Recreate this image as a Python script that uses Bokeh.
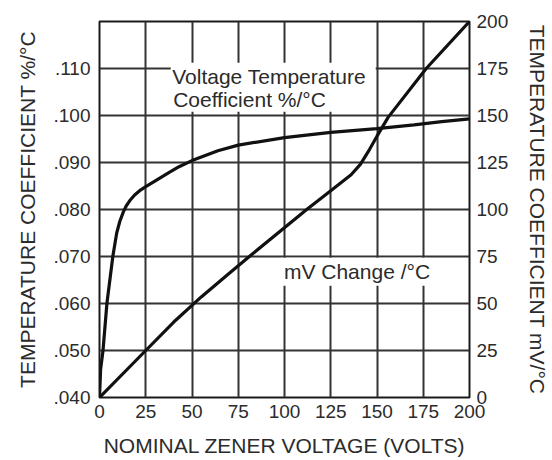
from bokeh.plotting import figure
from bokeh.models import (Range1d, LinearAxis, FixedTicker, CustomJSTickFormatter,
                          Label, BoxAnnotation)
from bokeh.embed import file_html
from bokeh.resources import INLINE

# --- data ---
volts_pct = [0, 0.6, 1.9, 4.0, 7.2, 9.3, 11.0, 12.9, 14.5, 16.4, 19.0, 21.7, 24.8,
             30.6, 37.7, 43, 50, 64, 75, 100, 125, 150, 170, 185, 200]
tc_pct = [0.040, 0.046, 0.050, 0.060, 0.070, 0.0750, 0.0775, 0.0795, 0.0808, 0.0819,
          0.0831, 0.0840, 0.0848, 0.0862, 0.0879, 0.0891, 0.0904, 0.0925, 0.0937,
          0.0953, 0.0964, 0.0972, 0.0980, 0.0987, 0.0993]

volts_mv = [0, 25, 40, 55, 70, 81, 112, 125, 136, 141, 146, 150, 156, 176.6, 200]
tc_mv = [0, 25, 40, 53.5, 66, 75, 100, 110, 118.5, 124, 132, 139, 149, 175, 200]

x_ticks = [0, 25, 50, 75, 100, 125, 150, 175, 200]
left_ticks = [0.040, 0.050, 0.060, 0.070, 0.080, 0.090, 0.100, 0.110]
right_ticks = [0, 25, 50, 75, 100, 125, 150, 175, 200]

x_title = "NOMINAL ZENER VOLTAGE (VOLTS)"
left_title = "TEMPERATURE COEFFICIENT %/°C"
right_title = "TEMPERATURE COEFFICIENT mV/°C"
pct_label = ["Voltage Temperature", "Coefficient %/°C"]
mv_label = "mV Change /°C"

FONT = "Liberation Sans"
TXT = "#2b2b2b"
GRID = "#333333"

p = figure(width=552, height=460, output_backend="svg", toolbar_location=None,
           x_range=Range1d(0, 200), y_range=Range1d(0.04, 0.12),
           min_border_left=99, min_border_right=76, min_border_top=21,
           min_border_bottom=63, background_fill_color="white",
           border_fill_color="white")
p.extra_y_ranges = {"mv": Range1d(0, 200)}

p.outline_line_color = "#1a1a1a"
p.outline_line_width = 2

# grids
p.xgrid.ticker = FixedTicker(ticks=x_ticks)
p.ygrid.ticker = FixedTicker(ticks=left_ticks)
for g in (p.xgrid, p.ygrid):
    g.grid_line_color = GRID
    g.grid_line_width = 2

# bottom axis
xa = p.xaxis[0]
xa.ticker = FixedTicker(ticks=x_ticks)
xa.axis_label = x_title

# left axis
ya = p.yaxis[0]
ya.ticker = FixedTicker(ticks=left_ticks)
ya.formatter = CustomJSTickFormatter(
    code="return '.' + String(Math.round(tick * 1000)).padStart(3, '0');")
ya.axis_label = left_title

# right axis
ra = LinearAxis(y_range_name="mv", ticker=FixedTicker(ticks=right_ticks),
                axis_label=right_title)
p.add_layout(ra, "right")

for ax in (xa, ya, ra):
    ax.axis_line_color = None
    ax.major_tick_line_color = None
    ax.minor_tick_line_color = None
    ax.major_tick_out = 0
    ax.major_tick_in = 0
    ax.major_label_text_font = FONT
    ax.major_label_text_font_size = "19px"
    ax.major_label_text_color = TXT
    ax.axis_label_text_font = FONT
    ax.axis_label_text_font_size = "21px"
    ax.axis_label_text_font_style = "normal"
    ax.axis_label_text_color = TXT

xa.major_label_standoff = 7
xa.axis_label_standoff = 13
ya.major_label_standoff = 9
ya.axis_label_standoff = 12
ra.major_label_standoff = 7
ra.axis_label_standoff = 15

# curves
p.line(volts_pct, tc_pct, line_color="#111111", line_width=3.2)
p.line(volts_mv, tc_mv, y_range_name="mv", line_color="#111111", line_width=3.2)

# label boxes (white backgrounds over grid)
p.add_layout(BoxAnnotation(left=38.5, right=149.3, top=0.1112, bottom=0.1008,
                           fill_color="white", fill_alpha=1.0, line_color=None))
p.add_layout(BoxAnnotation(left=98.3, right=177.3, top=74.3, bottom=59.4,
                           y_range_name="mv", fill_color="white", fill_alpha=1.0,
                           line_color=None))

p.add_layout(Label(x=39.3, y=0.1083, text=pct_label[0], text_font=FONT,
                   text_font_size="21px", text_color=TXT,
                   text_baseline="alphabetic"))
p.add_layout(Label(x=39.8, y=0.1034, text=pct_label[1], text_font=FONT,
                   text_font_size="21px", text_color=TXT,
                   text_baseline="alphabetic"))
p.add_layout(Label(x=99.7, y=66.8, y_range_name="mv", text=mv_label, text_font=FONT,
                   text_font_size="21px", text_color=TXT,
                   text_baseline="alphabetic"))

open("out.html", "w").write(file_html(p, INLINE))
